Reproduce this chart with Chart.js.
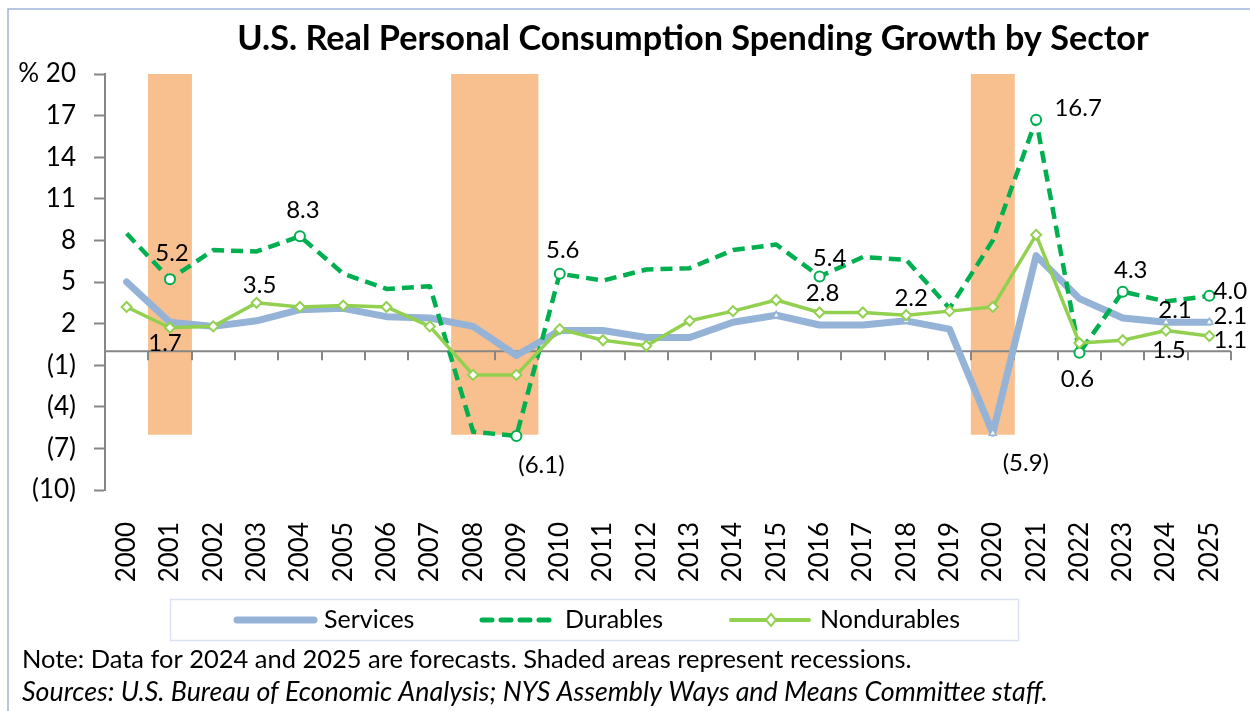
<!DOCTYPE html>
<html>
<head>
<meta charset="utf-8">
<title>U.S. Real Personal Consumption Spending Growth by Sector</title>
<script src="https://cdn.jsdelivr.net/npm/chart.js@4.4.1/dist/chart.umd.min.js"></script>
<style>
  html, body { margin: 0; padding: 0; background: #fff; }
  canvas { display: block; }
</style>
</head>
<body>
<canvas id="chart" width="1250" height="711"></canvas>
<script>
// Datos (variación anual, %)
const years = ['2000','2001','2002','2003','2004','2005','2006','2007','2008','2009','2010','2011','2012',
               '2013','2014','2015','2016','2017','2018','2019','2020','2021','2022','2023','2024','2025'];
const services    = [5.0, 2.1, 1.8, 2.2, 3.0, 3.1, 2.5, 2.4, 1.8, -0.3, 1.5, 1.5, 1.0,
                     1.0, 2.1, 2.6, 1.9, 1.9, 2.2, 1.6, -5.9, 6.9, 3.8, 2.4, 2.1, 2.1];
const durables    = [8.5, 5.2, 7.3, 7.2, 8.3, 5.6, 4.5, 4.7, -5.8, -6.1, 5.6, 5.1, 5.9,
                     6.0, 7.3, 7.7, 5.4, 6.8, 6.6, 3.1, 8.0, 16.7, -0.1, 4.3, 3.6, 4.0];
const nondurables = [3.2, 1.7, 1.8, 3.5, 3.2, 3.3, 3.2, 1.8, -1.7, -1.7, 1.6, 0.8, 0.4,
                     2.2, 2.9, 3.7, 2.8, 2.8, 2.6, 2.9, 3.2, 8.4, 0.6, 0.8, 1.5, 1.1];
const recessionYears = ['2001', '2008', '2009', '2020'];
const recessionRange = [-6, 20];

// años con marcador en cada serie
const servicesMarked = ['2015', '2018', '2020', '2024', '2025'];
const durablesMarked = ['2001', '2004', '2009', '2010', '2016', '2021', '2022', '2023', '2025'];

// etiquetas de datos: serie, año, desplazamiento en px
const callouts = [
  ['durables', '2001', 2, -26], ['nondurables', '2001', -5, 16],
  ['durables', '2004', 3, -26], ['nondurables', '2003', 3, -18],
  ['durables', '2009', 25, 29], ['durables', '2010', 3, -23],
  ['durables', '2016', 10, -18], ['nondurables', '2016', 3, -19],
  ['services', '2018', 5, -23], ['durables', '2021', 42, -11],
  ['services', '2020', 33, 30], ['nondurables', '2022', -2, 36],
  ['durables', '2023', 8, -21], ['durables', '2025', 21, -5],
  ['services', '2024', 9, -12], ['services', '2025', 21, -6],
  ['nondurables', '2024', 3, 20], ['nondurables', '2025', 21, 4]
];

const FONT = 'Lato';
const AXIS = '#868686';
const C_SERV = '#95B3D7', C_DUR = '#00B050', C_NOND = '#92D050', C_REC = '#F9C08F';

const fmt = v => v < 0 ? '(' + Math.abs(v).toFixed(1) + ')' : v.toFixed(1);

function fitFont(ctx, text, width, style) {
  ctx.font = style + ' 100px ' + FONT;
  const size = 100 * width / ctx.measureText(text).width;
  ctx.font = style + ' ' + size.toFixed(2) + 'px ' + FONT;
}

const overlay = {
  id: 'overlay',
  afterDatasetDraw(chart, args) {
    if (args.index !== 3) return;
    // línea del cero con marcas
    const { ctx, chartArea } = chart;
    const x = chart.scales.x, y = chart.scales.y;
    const y0 = y.getPixelForValue(0);
    const half = (x.getPixelForValue(1) - x.getPixelForValue(0)) / 2;
    ctx.save();
    ctx.strokeStyle = AXIS;
    ctx.lineWidth = 2;
    ctx.beginPath();
    ctx.moveTo(chartArea.left, y0);
    ctx.lineTo(chartArea.right, y0);
    for (let i = 0; i < years.length; i++) {
      const xx = Math.round(x.getPixelForValue(i) + half);
      ctx.moveTo(xx, y0);
      ctx.lineTo(xx, y0 + 9);
    }
    ctx.stroke();
    ctx.restore();
  },
  afterDraw(chart) {
    const ctx = chart.ctx;
    ctx.save();

    // borde del área del gráfico
    ctx.strokeStyle = '#9DB5DA';
    ctx.lineWidth = 1.5;
    ctx.beginPath();
    ctx.moveTo(8, 711);
    ctx.lineTo(8, 9);
    ctx.lineTo(1250, 9);
    ctx.stroke();

    // etiquetas de datos
    const seriesIdx = { services: 0, durables: 1, nondurables: 2 };
    ctx.fillStyle = '#000';
    ctx.font = '24px ' + FONT;
    ctx.textAlign = 'center';
    ctx.textBaseline = 'middle';
    callouts.forEach(([name, yr, dx, dy]) => {
      const si = seriesIdx[name];
      const i = years.indexOf(yr);
      const pt = chart.getDatasetMeta(si).data[i];
      const v = chart.data.datasets[si].data[i];
      ctx.fillText(fmt(v), pt.x + dx, pt.y + dy);
    });

    // título
    ctx.textBaseline = 'alphabetic';
    fitFont(ctx, 'U.S. Real Personal Consumption Spending Growth by Sector', 912, 'bold');
    ctx.fillText('U.S. Real Personal Consumption Spending Growth by Sector', 693, 50);

    // leyenda
    ctx.strokeStyle = '#D9E1F2';
    ctx.lineWidth = 1.5;
    ctx.strokeRect(170.5, 599.5, 848, 41);
    ctx.lineCap = 'round';
    ctx.strokeStyle = C_SERV;
    ctx.lineWidth = 7;
    ctx.beginPath(); ctx.moveTo(237, 620); ctx.lineTo(314, 620); ctx.stroke();
    ctx.strokeStyle = C_DUR;
    ctx.lineWidth = 5;
    ctx.setLineDash([10, 9]);
    ctx.beginPath(); ctx.moveTo(482, 620); ctx.lineTo(556, 620); ctx.stroke();
    ctx.setLineDash([]);
    ctx.strokeStyle = C_NOND;
    ctx.lineWidth = 4;
    ctx.beginPath(); ctx.moveTo(731, 620); ctx.lineTo(809, 620); ctx.stroke();
    ctx.fillStyle = '#fff';
    ctx.lineWidth = 2;
    ctx.beginPath();
    ctx.moveTo(771, 614); ctx.lineTo(776, 620); ctx.lineTo(771, 626); ctx.lineTo(766, 620); ctx.closePath();
    ctx.fill(); ctx.stroke();

    ctx.fillStyle = '#000';
    ctx.textAlign = 'left';
    ctx.textBaseline = 'middle';
    ctx.font = '25px ' + FONT;
    ctx.fillText('Services', 324, 620);
    ctx.fillText('Durables', 565, 620);
    ctx.fillText('Nondurables', 820, 620);

    // notas
    ctx.textBaseline = 'alphabetic';
    const note = 'Note: Data for 2024 and 2025 are forecasts. Shaded areas represent recessions.';
    fitFont(ctx, note, 890, 'normal');
    ctx.fillText(note, 22, 668);
    const src = 'Sources: U.S. Bureau of Economic Analysis; NYS Assembly Ways and Means Committee staff.';
    fitFont(ctx, src, 1026, 'italic');
    ctx.fillText(src, 22, 701);

    ctx.restore();
  }
};

const ctx = document.getElementById('chart').getContext('2d');
new Chart(ctx, {
  data: {
    labels: years,
    datasets: [
      {
        type: 'line',
        label: 'Services',
        data: services,
        borderColor: C_SERV,
        borderWidth: 7,
        borderJoinStyle: 'round',
        borderCapStyle: 'round',
        pointStyle: 'triangle',
        pointRadius: years.map(y => servicesMarked.includes(y) ? 4 : 0),
        pointBackgroundColor: '#fff',
        pointBorderColor: C_SERV,
        pointBorderWidth: 1.5,
        tension: 0,
        order: 2
      },
      {
        type: 'line',
        label: 'Durables',
        data: durables,
        borderColor: C_DUR,
        borderWidth: 4.5,
        borderDash: [12, 7],
        borderJoinStyle: 'round',
        pointStyle: 'circle',
        pointRadius: years.map(y => durablesMarked.includes(y) ? 5 : 0),
        pointBackgroundColor: '#fff',
        pointBorderColor: C_DUR,
        pointBorderWidth: 2,
        tension: 0,
        order: 1
      },
      {
        type: 'line',
        label: 'Nondurables',
        data: nondurables,
        borderColor: C_NOND,
        borderWidth: 3.5,
        borderJoinStyle: 'round',
        pointStyle: 'rectRot',
        pointRadius: 5,
        pointBackgroundColor: '#fff',
        pointBorderColor: C_NOND,
        pointBorderWidth: 2,
        tension: 0,
        order: 0
      },
      {
        type: 'bar',
        label: 'Recessions',
        data: years.map(y => recessionYears.includes(y) ? recessionRange : null),
        backgroundColor: C_REC,
        borderWidth: 0,
        barPercentage: 1,
        categoryPercentage: 1,
        order: 10
      }
    ]
  },
  options: {
    responsive: false,
    devicePixelRatio: 1,
    animation: false,
    layout: { padding: { top: 74, right: 19, bottom: 121, left: 0 } },
    plugins: {
      legend: { display: false },
      title: { display: false },
      tooltip: { enabled: false }
    },
    scales: {
      x: {
        type: 'category',
        offset: true,
        grid: { display: false, drawTicks: false },
        border: { display: false },
        ticks: {
          autoSkip: false,
          minRotation: 90,
          maxRotation: 90,
          padding: 32,
          color: '#000',
          font: { family: FONT, size: 26 }
        },
        afterFit: s => {
          s.height = 100;
          s.paddingLeft = 0;
          s.paddingRight = 0;
        }
      },
      y: {
        type: 'linear',
        min: -10,
        max: 20,
        grid: {
          drawOnChartArea: false,
          drawTicks: true,
          tickLength: 11,
          tickWidth: 2,
          color: AXIS
        },
        border: { display: true, color: AXIS, width: 2 },
        ticks: {
          stepSize: 3,
          padding: 18,
          color: '#000',
          font: { family: FONT, size: 26 },
          callback: v => v === 20 ? '% 20' : (v < 0 ? '(' + (-v) + ')' : String(v))
        },
        afterFit: s => { s.width = 105; }
      }
    }
  },
  plugins: [overlay]
});
</script>
</body>
</html>
